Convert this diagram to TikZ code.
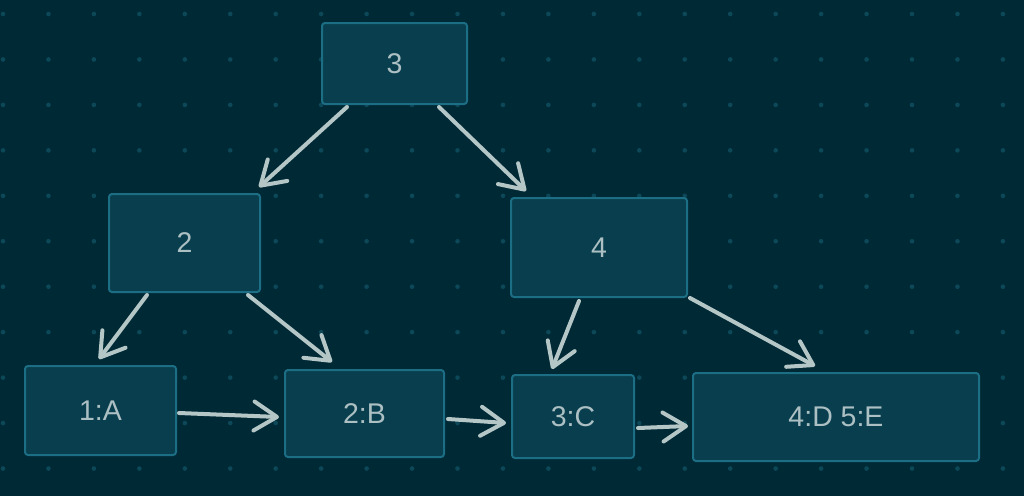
\documentclass[tikz,border=0pt]{standalone}
\usepackage{fontspec}
\setmainfont{Liberation Sans}
\usetikzlibrary{arrows.meta,calc}
\definecolor{bgc}{RGB}{0,41,54}
\definecolor{boxfill}{RGB}{8,62,77}
\definecolor{boxline}{RGB}{28,110,132}
\definecolor{dotc}{RGB}{12,72,88}
\definecolor{arrc}{RGB}{180,198,198}
\definecolor{txtc}{RGB}{172,192,196}
\tikzset{
  tnode/.style={draw=boxline, line width=2pt, fill=boxfill, rounded corners=3pt,
    inner sep=0pt, text=txtc, font=\fontsize{28.5}{32}\selectfont},
  conn/.style={draw=arrc, line width=4pt, line cap=round,
    -{Straight Barb[length=23pt,width=29pt,round]}}
}
\begin{document}
\begin{tikzpicture}[x=1pt,y=-1pt]
\fill[bgc] (0,0) rectangle (1024,496);
\useasboundingbox (0,0) rectangle (1024,496);
\foreach \i in {0,...,22}{
  \foreach \j in {0,...,10}{
    \fill[dotc] ({3+45.45*\i},{14+45.45*\j}) circle (2.3pt);
  }
}
\node[tnode, minimum width=145pt, minimum height=81pt] (n3) at (394.5,63.5) {3};
\node[tnode, minimum width=151pt, minimum height=98pt] (n2) at (184.5,243) {2};
\node[tnode, minimum width=176pt, minimum height=99pt] (n4) at (599,247.5) {4};
\node[tnode, minimum width=151pt, minimum height=89pt] (nA) at (100.5,410.5) {1:A};
\node[tnode, minimum width=159pt, minimum height=87pt] (nB) at (364.5,413.5) {2:B};
\node[tnode, minimum width=122pt, minimum height=83pt] (nC) at (573,416.5) {3:C};
\node[tnode, minimum width=286pt, minimum height=88pt] (nDE) at (836,417) {4:D 5:E};

\draw[conn] ($(n3.south west)+(26,2)$) -- ($(n2.north east)+(-2,-6)$);
\draw[conn] ($(n3.south east)+(-29,2)$) -- ($(n4.north west)+(16,-6)$);
\draw[conn] ($(n2.south west)+(39,2)$) -- ($(nA.north)+(-1.5,-6)$);
\draw[conn] ($(n2.south east)+(-13,2)$) -- ($(nB.north west)+(48,-7)$);
\draw[conn] ($(n4.south west)+(69,3)$) -- ($(nC.north west)+(41,-5)$);
\draw[conn] ($(n4.south east)+(2,0)$) -- ($(nDE.north west)+(123,-6)$);
\draw[conn] ($(nA.east)+(2,2.5)$) -- ($(nB.west)+(-5,3.5)$);
\draw[conn] ($(nB.east)+(3,5.5)$) -- ($(nC.west)+(-5,6.5)$);
\draw[conn] ($(nC.east)+(3,11.5)$) -- ($(nDE.west)+(-4,9)$);
\end{tikzpicture}
\end{document}
